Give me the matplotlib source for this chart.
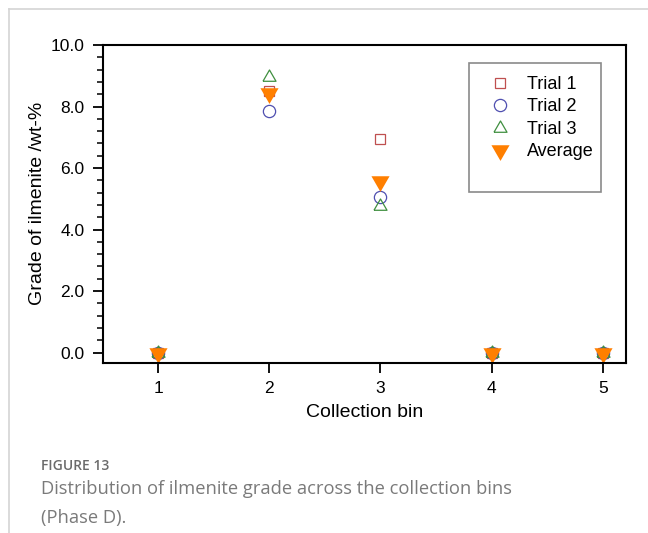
import matplotlib
matplotlib.use('Agg')
import matplotlib.pyplot as plt
from matplotlib.lines import Line2D
from matplotlib.patches import Rectangle
from matplotlib.ticker import MultipleLocator

# grade of ilmenite per collection bin (Phase D)
bins = [1, 2, 3, 4, 5]
trial1 = [0.0, 8.5, 6.95, 0.0, 0.0]
trial2 = [0.0, 7.85, 5.05, 0.0, 0.0]
trial3 = [0.0, 8.95, 4.75, 0.0, 0.0]
average = [0.0, 8.43, 5.58, 0.0, 0.0]
yticks = [0, 2, 4, 6, 8, 10]

plt.rcParams['font.family'] = ['Liberation Sans', 'DejaVu Sans']

# equilateral triangles centred on their centroid
tri_up = [(-1, -0.58), (1, -0.58), (0, 1.15), (-1, -0.58)]
tri_down = [(-1, 0.58), (1, 0.58), (0, -1.15), (-1, 0.58)]

fig = plt.figure(figsize=(6.48, 5.33), dpi=100)
ax = fig.add_axes([0.1582, 0.3195, 0.808, 0.596])

ax.plot(bins, trial1, ls='none', marker='s', ms=7.5, mfc='none', mec='#bf4f4f', mew=0.9, label='Trial 1')
ax.plot(bins, trial2, ls='none', marker='o', ms=8.8, mfc='none', mec='#4f4fb0', mew=0.9, label='Trial 2')
ax.plot(bins, trial3, ls='none', marker=tri_up, ms=10.8, mfc='none', mec='#3f8f3f', mew=0.9, label='Trial 3')
ax.plot(bins, average, ls='none', marker=tri_down, ms=15, mfc='#ff7f00', mec='#ff7f00', mew=0, label='Average')

ax.set_xlim(0.5, 5.21)
ax.set_ylim(-0.33, 10.0)
ax.set_xticks(bins)
ax.set_yticks(yticks)
ax.set_yticklabels(['%.1f' % v for v in yticks])
ax.yaxis.set_minor_locator(MultipleLocator(0.4))
ax.tick_params(axis='both', which='major', direction='out', length=7, width=1.3, pad=6,
               labelsize=12.5, colors='black')
ax.tick_params(axis='y', which='minor', direction='out', length=4, width=1.1)
for s in ax.spines.values():
    s.set_linewidth(1.5)

ax.set_xlabel('Collection bin', fontsize=14, labelpad=6)
ax.set_ylabel('Grade of ilmenite /wt-%', fontsize=14, labelpad=3)

# legend inside a fixed box
fig.patches.append(Rectangle((469 / 648, 1 - 192 / 533), 132 / 648, 129 / 533,
                             transform=fig.transFigure, fill=False, ec='#8a8a8a', lw=1.2))
ax.legend(loc='upper left', bbox_to_anchor=(488 / 648, 1 - 76 / 533), bbox_transform=fig.transFigure,
          frameon=False, fontsize=13, borderpad=0, labelspacing=0.3, handlelength=1.3,
          handletextpad=0.85, borderaxespad=0)

# card border and caption
fig.add_artist(Line2D([9 / 648, 1], [1 - 9 / 533, 1 - 9 / 533], transform=fig.transFigure, color='#d4d4d4', lw=1.2))
fig.add_artist(Line2D([9 / 648, 9 / 648], [0, 1 - 9 / 533], transform=fig.transFigure, color='#d4d4d4', lw=1.2))
fig.text(41 / 648, 1 - 466 / 533, 'FIGURE 13', family='Open Sans', fontsize=10, fontweight='semibold',
         color='#6b6b6b', va='center')
fig.text(41 / 648, 1 - 489 / 533, 'Distribution of ilmenite grade across the collection bins',
         family='Open Sans', fontsize=13.2, color='#7a7a7a', va='center')
fig.text(41 / 648, 1 - 518 / 533, '(Phase D).', family='Open Sans', fontsize=13.2, color='#7a7a7a', va='center')

fig.savefig('out.png', dpi=100)
